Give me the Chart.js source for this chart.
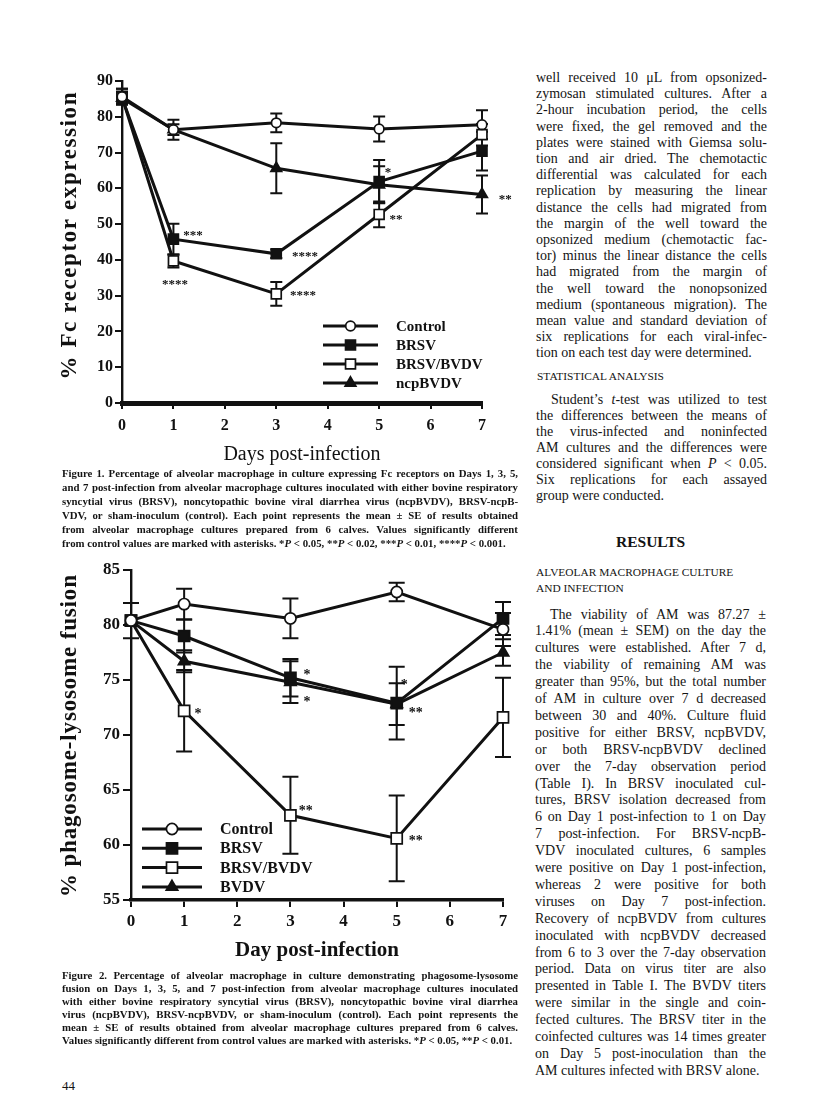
<!DOCTYPE html>
<html>
<head>
<meta charset="utf-8">
<title>Fc receptor expression and phagosome-lysosome fusion</title>
<script src="https://cdn.jsdelivr.net/npm/chart.js@4.4.1/dist/chart.umd.min.js"></script>
<style>
  html, body { margin: 0; padding: 0; background: #fff; }
  body { position: relative; width: 816px; height: 1103px; overflow: hidden;
         font-family: "Liberation Serif", "Times New Roman", serif; color: #141414; }
  canvas { position: absolute; }
  .ln { position: absolute; white-space: nowrap; }
  .cap { font-weight: bold; font-size: 10.8px; }
  .txt { font-size: 14px; }
  .sc { position: absolute; font-size: 11.4px; white-space: nowrap; }
</style>
</head>
<body>
<canvas id="fcChart" width="490" height="412" style="left:40px;top:60px"></canvas>
<canvas id="plChart" width="490" height="417" style="left:40px;top:555px"></canvas>

<div class="sc" style="left:537px;top:370px">STATISTICAL ANALYSIS</div>
<div class="sc" style="left:616px;top:533px;font-size:15.5px;font-weight:bold">RESULTS</div>
<div class="sc" style="left:536px;top:566px">ALVEOLAR MACROPHAGE CULTURE</div>
<div class="sc" style="left:536px;top:582px">AND INFECTION</div>
<div class="sc" style="left:62px;top:1078px;font-size:13px">44</div>

<script>
const INK = '#111';
const FONT = '"Liberation Serif", "Times New Roman", serif';

// ---- data ----
const days = [0, 1, 3, 5, 7];
const seriesNames = ['Control', 'BRSV', 'BRSV/BVDV', 'ncpBVDV'];
const seriesNames2 = ['Control', 'BRSV', 'BRSV/BVDV', 'BVDV'];

// Figure 1: % Fc receptor expression (mean and SE)
const fcControl   = [85.6, 76.4, 78.3, 76.6, 77.8];
const fcControlSe = [2.2, 2.8, 2.6, 3.5, 4.0];
const fcBrsv      = [85.3, 45.8, 41.7, 61.9, 70.4];
const fcBrsvSe    = [1.8, 4.3, 1.2, 6.0, 5.4];
const fcCoinf     = [85.6, 39.7, 30.5, 52.7, 75.0];
const fcCoinfSe   = [2.2, 1.8, 3.3, 3.6, 3.0];
const fcNcp       = [85.2, 76.4, 65.6, 61.0, 58.3];
const fcNcpSe     = [1.5, 1.5, 7.0, 5.2, 5.3];
const fcStars = [
  [1.38, 47.5, '***'], [1.03, 33.8, '****'], [3.56, 41.6, '****'],
  [3.52, 30.7, '****'], [5.17, 65.1, '*'], [5.33, 52.0, '**'], [7.45, 57.6, '**']
];

// Figure 2: % phagosome-lysosome fusion (mean and SE)
const plControl   = [80.4, 81.9, 80.6, 83.0, 79.6];
const plControlSe = [1.6, 1.4, 1.8, 0.85, 1.5];
const plBrsv      = [80.4, 79.0, 75.2, 72.9, 80.6];
const plBrsvSe    = [0, 1.5, 1.7, 3.3, 1.5];
const plCoinf     = [80.4, 72.2, 62.7, 60.6, 71.6];
const plCoinfSe   = [0, 3.7, 3.5, 3.9, 3.6];
const plBvdv      = [80.4, 76.7, 74.8, 72.8, 77.5];
const plBvdvSe    = [0, 1.0, 1.9, 1.9, 1.2];
const plStars = [
  [1.26, 72.1, '*'], [3.29, 63.3, '**'], [3.31, 75.7, '*'], [3.31, 73.2, '*'],
  [5.14, 74.8, '*'], [5.36, 72.2, '**'], [5.36, 60.6, '**']
];

const markers = [
  { style: 'circle', fill: '#fff' },
  { style: 'rect', fill: INK },
  { style: 'rect', fill: '#fff' },
  { style: 'triangle', fill: INK }
];

// error bars, asterisks, in-plot legend and rotated y title
function extras(s) {
  return {
    id: 'extras',
    beforeDatasetsDraw(chart) {
      const { ctx } = chart, xs = chart.scales.x, ys = chart.scales.y;
      ctx.save();
      ctx.strokeStyle = INK;
      ctx.lineWidth = s.barWidth;
      chart.data.datasets.forEach(ds => {
        ds.data.forEach((p, j) => {
          const e = ds.errors[j];
          if (!e) return;
          const x = xs.getPixelForValue(p.x);
          const y1 = ys.getPixelForValue(p.y + e), y2 = ys.getPixelForValue(p.y - e);
          ctx.beginPath();
          ctx.moveTo(x, y1); ctx.lineTo(x, y2);
          ctx.moveTo(x - s.cap, y1); ctx.lineTo(x + s.cap, y1);
          ctx.moveTo(x - s.cap, y2); ctx.lineTo(x + s.cap, y2);
          ctx.stroke();
        });
      });
      ctx.restore();
    },
    afterDatasetsDraw(chart) {
      const { ctx, chartArea: a } = chart, xs = chart.scales.x, ys = chart.scales.y;
      ctx.save();
      ctx.fillStyle = INK;

      // asterisks
      ctx.font = 'bold ' + s.starSize + 'px ' + FONT;
      ctx.textAlign = 'center';
      ctx.textBaseline = 'alphabetic';
      s.stars.forEach(([d, v, t]) => {
        ctx.fillText(t, xs.getPixelForValue(d), ys.getPixelForValue(v) + s.starSize * 0.47);
      });

      // legend
      ctx.font = 'bold ' + s.legendSize + 'px ' + FONT;
      ctx.textAlign = 'left';
      ctx.textBaseline = 'middle';
      chart.data.datasets.forEach((ds, k) => {
        const y = a.top + s.legY + k * s.legStep;
        const x0 = a.left + s.legX, x1 = x0 + s.legLen;
        ctx.strokeStyle = INK;
        ctx.lineWidth = s.lineWidth;
        ctx.beginPath(); ctx.moveTo(x0, y); ctx.lineTo(x1, y); ctx.stroke();
        ctx.fillStyle = ds.pointBackgroundColor;
        ctx.strokeStyle = INK;
        ctx.lineWidth = ds.pointBorderWidth;
        Chart.helpers.drawPoint(ctx, { pointStyle: ds.pointStyle, rotation: 0,
          radius: ds.pointRadius, borderWidth: ds.pointBorderWidth }, (x0 + x1) / 2, y);
        ctx.fillStyle = INK;
        ctx.fillText(ds.label, a.left + s.legText, y + 1);
      });

      // y axis title, stretched to the printed length
      ctx.font = 'bold ' + s.yTitleSize + 'px ' + FONT;
      const w = ctx.measureText(s.yTitle).width;
      const ls = (s.yTitleLen - w) / (s.yTitle.length - 1);
      ctx.letterSpacing = ls.toFixed(2) + 'px';
      ctx.translate(a.left + s.yTitleDx, (a.top + a.bottom) / 2 + s.yTitleDy);
      ctx.rotate(-Math.PI / 2);
      ctx.textAlign = 'center';
      ctx.textBaseline = 'middle';
      ctx.fillText(s.yTitle, ls / 2, 0);
      ctx.restore();
    }
  };
}

function buildChart(id, s) {
  const datasets = s.series.map((vals, k) => ({
    label: s.names[k],
    data: days.map((d, j) => ({ x: d, y: vals[j] })),
    errors: s.errors[k],
    borderColor: INK,
    borderWidth: s.lineWidth,
    pointStyle: markers[k].style,
    pointRadius: s.radius[markers[k].style],
    pointBackgroundColor: markers[k].fill,
    pointBorderColor: INK,
    pointBorderWidth: 1.7,
    tension: 0,
    fill: false,
    clip: false
  }));
  const tickFont = { family: FONT, size: s.tickSize, weight: 'bold' };
  return new Chart(document.getElementById(id), {
    type: 'line',
    data: { datasets },
    options: {
      responsive: false,
      animation: false,
      devicePixelRatio: 1,
      layout: { padding: { top: s.padTop, right: s.padRight, left: 0, bottom: 0 } },
      plugins: { legend: { display: false }, tooltip: { enabled: false } },
      scales: {
        x: {
          type: 'linear', min: 0, max: 7,
          afterFit: sc => { sc.height = s.xHeight; },
          ticks: { stepSize: 1, autoSkip: false, maxRotation: 0, color: INK, padding: s.xPad, font: tickFont },
          grid: { drawOnChartArea: false, drawTicks: true, tickLength: s.xTickLen, color: INK, lineWidth: 2 },
          border: { display: true, color: INK, width: s.xBorder },
          title: { display: true, text: s.xTitle, color: INK,
                   font: { family: FONT, size: s.xTitleSize, weight: s.xTitleWeight },
                   padding: { top: 0, bottom: s.xTitlePad } }
        },
        y: {
          type: 'linear', min: s.yMin, max: s.yMax,
          afterFit: sc => { sc.width = s.yWidth; },
          ticks: { stepSize: s.yStep, color: INK, padding: s.yPad, font: tickFont },
          grid: { drawOnChartArea: false, drawTicks: true, tickLength: s.yTickLen, color: INK, lineWidth: 2 },
          border: { display: true, color: INK, width: 2.4 }
        }
      }
    },
    plugins: [extras(s)]
  });
}

buildChart('fcChart', {
  series: [fcControl, fcBrsv, fcCoinf, fcNcp],
  errors: [fcControlSe, fcBrsvSe, fcCoinfSe, fcNcpSe],
  names: seriesNames,
  stars: fcStars,
  yMin: 0, yMax: 90, yStep: 10,
  xTitle: 'Days post-infection', xTitleSize: 20, xTitleWeight: 'normal', xTitlePad: 5,
  yTitle: '% Fc receptor expression', yTitleSize: 23, yTitleLen: 287, yTitleDx: -52, yTitleDy: -6,
  padTop: 21, padRight: 48, yWidth: 82, xHeight: 69,
  tickSize: 16, xPad: 7, xTickLen: 6, yPad: 2, yTickLen: 7, xBorder: 5,
  lineWidth: 3, barWidth: 2, cap: 6,
  radius: { circle: 4.8, rect: 7, triangle: 6.2 },
  starSize: 13, legendSize: 15, legX: 201, legLen: 55, legText: 274, legY: 245, legStep: 19
});

buildChart('plChart', {
  series: [plControl, plBrsv, plCoinf, plBvdv],
  errors: [plControlSe, plBrsvSe, plCoinfSe, plBvdvSe],
  names: seriesNames2,
  stars: plStars,
  yMin: 55, yMax: 85, yStep: 5,
  xTitle: 'Day post-infection', xTitleSize: 21, xTitleWeight: 'bold', xTitlePad: 9,
  yTitle: '% phagosome-lysosome fusion', yTitleSize: 23, yTitleLen: 322, yTitleDx: -61, yTitleDy: 1,
  padTop: 15, padRight: 27, yWidth: 91, xHeight: 72,
  tickSize: 17, xPad: 4, xTickLen: 7, yPad: 3, yTickLen: 8, xBorder: 3.5,
  lineWidth: 3, barWidth: 2, cap: 8,
  radius: { circle: 5.6, rect: 7.8, triangle: 6.6 },
  starSize: 14, legendSize: 16, legX: 11, legLen: 60, legText: 89, legY: 259, legStep: 19.3
});

// ---- page text ----
function placeLines(lines, left, firstCenter, width, step, cls, indent) {
  lines.forEach((html, i) => {
    const d = document.createElement('div');
    d.className = 'ln ' + cls;
    const ind = (i === 0 && indent) ? indent : 0;
    d.style.left = (left + ind) + 'px';
    d.style.lineHeight = step + 'px';
    d.style.top = (firstCenter + i * step - step / 2) + 'px';
    d.innerHTML = html;
    document.body.appendChild(d);
    const w = width - ind;
    const nat = d.getBoundingClientRect().width;
    const gaps = d.textContent.split(' ').length - 1;
    const last = i === lines.length - 1;
    if (gaps > 0 && (!last || nat > w)) d.style.wordSpacing = ((w - nat) / gaps).toFixed(2) + 'px';
  });
}

const caption1 = [
  'Figure 1. Percentage of alveolar macrophage in culture expressing Fc receptors on Days 1, 3, 5,',
  'and 7 post-infection from alveolar macrophage cultures inoculated with either bovine respiratory',
  'syncytial virus (BRSV), noncytopathic bovine viral diarrhea virus (ncpBVDV), BRSV-ncpB-',
  'VDV, or sham-inoculum (control). Each point represents the mean ± SE of results obtained',
  'from alveolar macrophage cultures prepared from 6 calves. Values significantly different',
  'from control values are marked with asterisks. *<i>P</i> &lt; 0.05, **<i>P</i> &lt; 0.02, ***<i>P</i> &lt; 0.01, ****<i>P</i> &lt; 0.001.'
];
const caption2 = [
  'Figure 2. Percentage of alveolar macrophage in culture demonstrating phagosome-lysosome',
  'fusion on Days 1, 3, 5, and 7 post-infection from alveolar macrophage cultures inoculated',
  'with either bovine respiratory syncytial virus (BRSV), noncytopathic bovine viral diarrhea',
  'virus (ncpBVDV), BRSV-ncpBVDV, or sham-inoculum (control). Each point represents the',
  'mean ± SE of results obtained from alveolar macrophage cultures prepared from 6 calves.',
  'Values significantly different from control values are marked with asterisks. *<i>P</i> &lt; 0.05, **<i>P</i> &lt; 0.01.'
];
const para1 = [
  'well received 10 μL from opsonized-',
  'zymosan stimulated cultures. After a',
  '2-hour incubation period, the cells',
  'were fixed, the gel removed and the',
  'plates were stained with Giemsa solu-',
  'tion and air dried. The chemotactic',
  'differential was calculated for each',
  'replication by measuring the linear',
  'distance the cells had migrated from',
  'the margin of the well toward the',
  'opsonized medium (chemotactic fac-',
  'tor) minus the linear distance the cells',
  'had migrated from the margin of',
  'the well toward the nonopsonized',
  'medium (spontaneous migration). The',
  'mean value and standard deviation of',
  'six replications for each viral-infec-',
  'tion on each test day were determined.'
];
const para2 = [
  'Student’s <i>t</i>-test was utilized to test',
  'the differences between the means of',
  'the virus-infected and noninfected',
  'AM cultures and the differences were',
  'considered significant when <i>P</i> &lt; 0.05.',
  'Six replications for each assayed',
  'group were conducted.'
];
const para3 = [
  'The viability of AM was 87.27 ±',
  '1.41% (mean ± SEM) on the day the',
  'cultures were established. After 7 d,',
  'the viability of remaining AM was',
  'greater than 95%, but the total number',
  'of AM in culture over 7 d decreased',
  'between 30 and 40%. Culture fluid',
  'positive for either BRSV, ncpBVDV,',
  'or both BRSV-ncpBVDV declined',
  'over the 7-day observation period',
  '(Table I). In BRSV inoculated cul-',
  'tures, BRSV isolation decreased from',
  '6 on Day 1 post-infection to 1 on Day',
  '7 post-infection. For BRSV-ncpB-',
  'VDV inoculated cultures, 6 samples',
  'were positive on Day 1 post-infection,',
  'whereas 2 were positive for both',
  'viruses on Day 7 post-infection.',
  'Recovery of ncpBVDV from cultures',
  'inoculated with ncpBVDV decreased',
  'from 6 to 3 over the 7-day observation',
  'period. Data on virus titer are also',
  'presented in Table I. The BVDV titers',
  'were similar in the single and coin-',
  'fected cultures. The BRSV titer in the',
  'coinfected cultures was 14 times greater',
  'on Day 5 post-inoculation than the',
  'AM cultures infected with BRSV alone.'
];

placeLines(caption1, 62, 473, 456, 14, 'cap', 0);
placeLines(caption2, 62, 975, 456, 13, 'cap', 0);
placeLines(para1, 536, 78, 231, 16.2, 'txt', 0);
placeLines(para2, 536, 400, 231, 16, 'txt', 15);
placeLines(para3, 535, 615, 231, 16.9, 'txt', 15);
</script>
</body>
</html>
